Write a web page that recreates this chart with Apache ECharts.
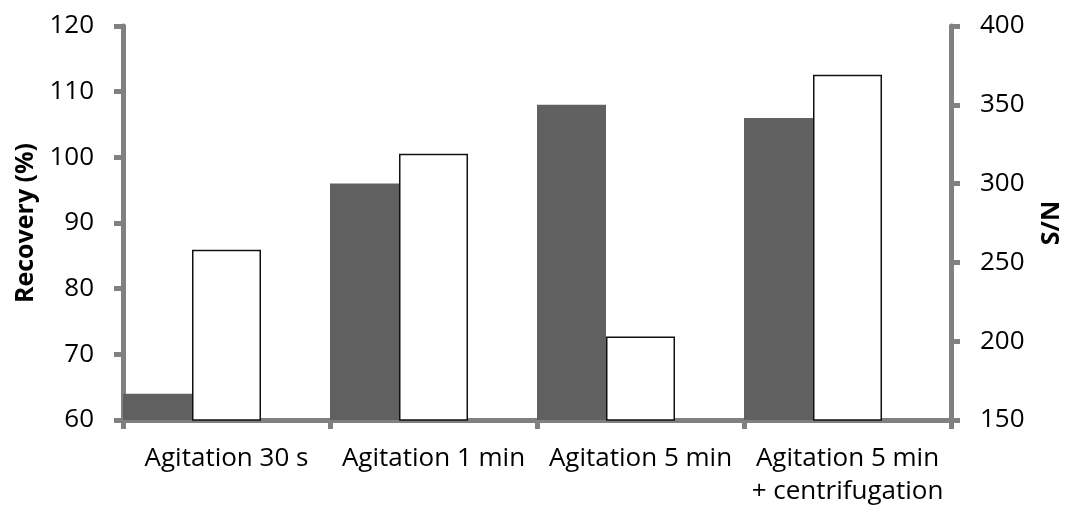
<!DOCTYPE html>
<html><head><meta charset="utf-8">
<script src="https://cdn.jsdelivr.net/npm/echarts@6/dist/echarts.min.js"></script>
<style>html,body{margin:0;padding:0;background:#fff}#c{width:1065px;height:506px}</style>
</head><body><div id="c"></div>
<script>
const categories = ['Agitation 30 s', 'Agitation 1 min', 'Agitation 5 min', 'Agitation 5 min\n+ centrifugation'];
const recovery = [64, 96, 108, 106];
const sn = [258, 319, 203, 369];
const leftTicks = [60, 120, 10];
const rightTicks = [150, 400, 50];

const font = '"Open Sans", sans-serif';
const axisGray = '#808080';
const chart = echarts.init(document.getElementById('c'));
chart.setOption({
  animation: false,
  grid: {left: 123, right: 114, top: 26, bottom: 86, containLabel: false, outerBoundsMode: 'none'},
  xAxis: {
    type: 'category', data: categories,
    axisLine: {show: true, lineStyle: {color: axisGray, width: 5}},
    axisTick: {show: true, length: 9, lineStyle: {color: axisGray, width: 5}},
    axisLabel: {color: '#000', fontFamily: font, fontSize: 26, margin: 22, lineHeight: 33, interval: 0}
  },
  yAxis: [{
    type: 'value', min: leftTicks[0], max: leftTicks[1], interval: leftTicks[2],
    name: 'Recovery (%)', nameLocation: 'middle', nameRotate: 90, nameGap: 82,
    nameTextStyle: {color: '#000', fontFamily: font, fontSize: 25, fontWeight: 'bold'},
    axisLine: {show: true, lineStyle: {color: axisGray, width: 5}},
    axisTick: {show: true, length: 9, lineStyle: {color: axisGray, width: 5}},
    axisLabel: {color: '#000', fontFamily: font, fontSize: 26, margin: 29},
    splitLine: {show: false}
  }, {
    type: 'value', min: rightTicks[0], max: rightTicks[1], interval: rightTicks[2],
    name: 'S/N', nameLocation: 'middle', nameRotate: 90, nameGap: 88,
    nameTextStyle: {color: '#000', fontFamily: font, fontSize: 25, fontWeight: 'bold'},
    axisLine: {show: true, lineStyle: {color: axisGray, width: 5}},
    axisTick: {show: true, length: 9, lineStyle: {color: axisGray, width: 5}},
    axisLabel: {color: '#000', fontFamily: font, fontSize: 26, margin: 29},
    splitLine: {show: false}
  }],
  series: [
    {name: 'Recovery (%)', type: 'bar', yAxisIndex: 0, data: recovery,
     barGap: '0%', barCategoryGap: '0%',
     itemStyle: {color: '#606060'}},
    {name: 'S/N', type: 'bar', yAxisIndex: 1, data: sn,
     itemStyle: {color: '#ffffff', borderColor: '#111', borderWidth: 1.5}},
    {name: '', type: 'bar', yAxisIndex: 0, data: categories.map(() => '-'), silent: true}
  ]
});
</script></body></html>
